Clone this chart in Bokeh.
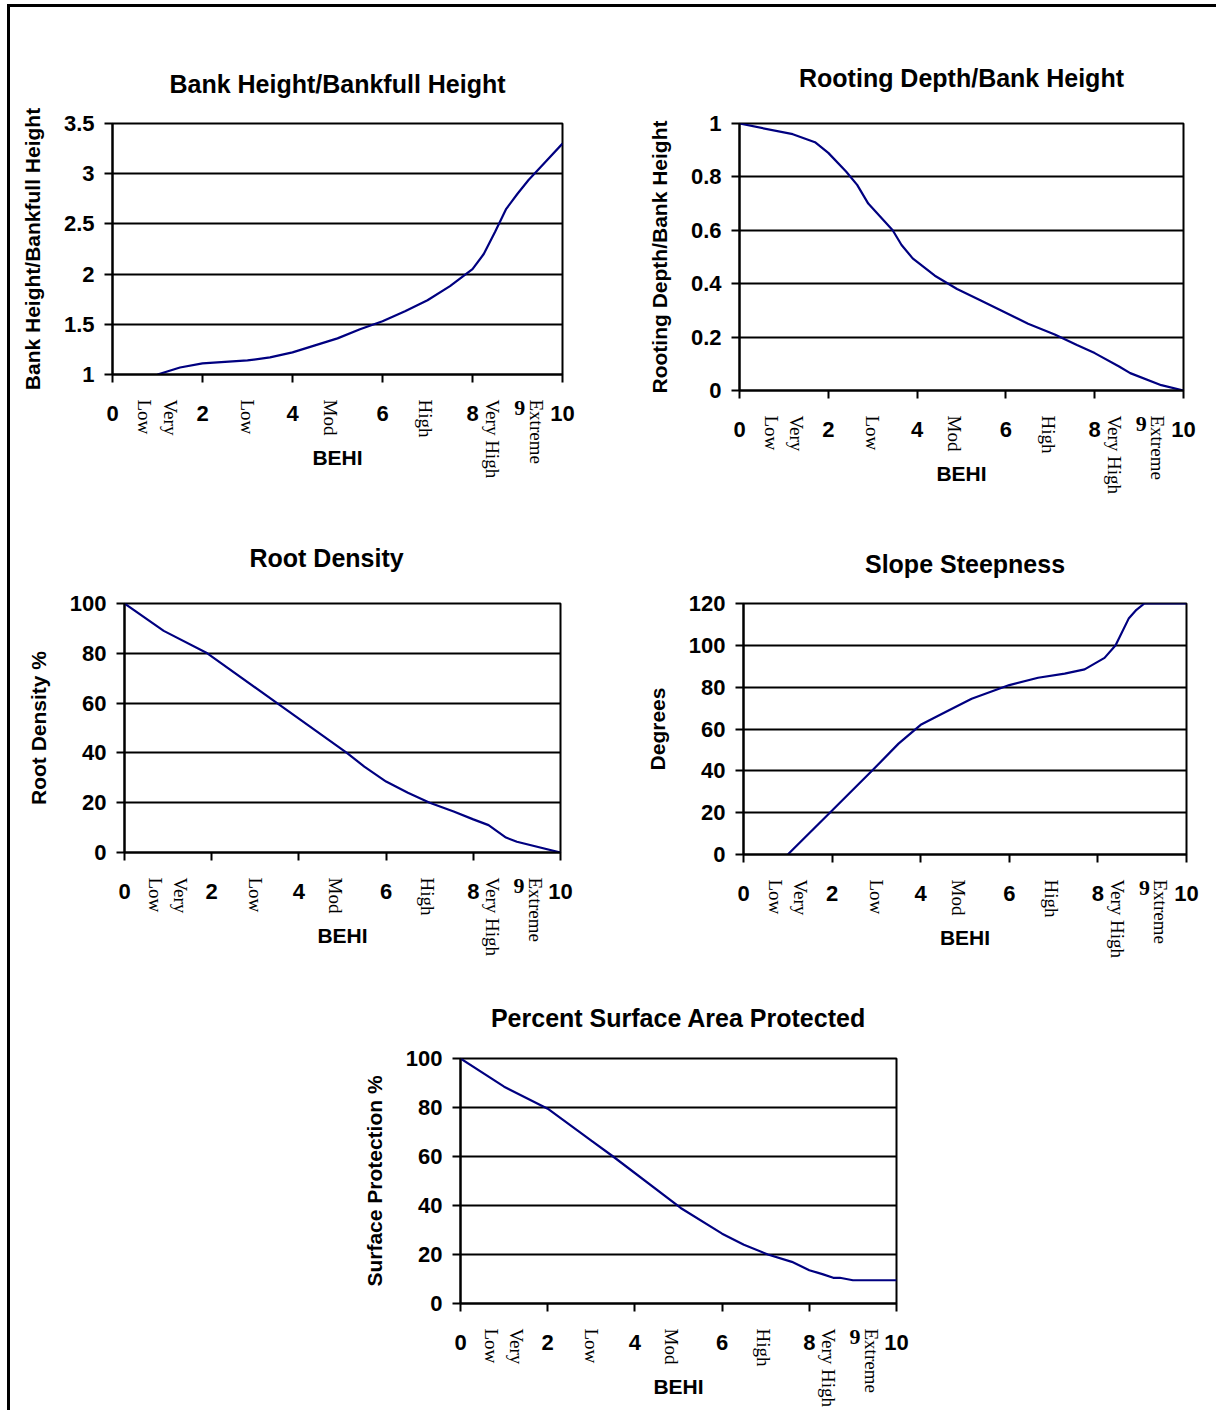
import math
from bokeh.plotting import figure
from bokeh.models import Range1d, FixedTicker, LinearAxis, Spacer
from bokeh.layouts import column, row
from bokeh.embed import file_html
from bokeh.resources import INLINE

# ---------------- data ----------------
behi_ticks = [0, 2, 4, 6, 8, 10]
behi_tick_labels = ["0", "2", "4", "6", "8", "10"]
rating_labels = ["Very\nLow", "Low", "Mod", "High", "Very High", "Extreme"]
rating_pos = [1.0, 3.0, 4.85, 6.95, 8.45, 9.42]
nine_label = ["9"]
nine_pos = [9.05]

bank_x = [1.0, 1.5, 2.0, 2.5, 3.0, 3.5, 4.0, 4.5, 5.0, 5.5, 6.0, 6.5, 7.0, 7.5,
          8.0, 8.25, 8.5, 8.75, 9.0, 9.25, 9.5, 10.0]
bank_y = [1.0, 1.07, 1.11, 1.125, 1.14, 1.17, 1.22, 1.29, 1.36, 1.45, 1.53, 1.63,
          1.74, 1.88, 2.05, 2.2, 2.42, 2.65, 2.80, 2.94, 3.06, 3.30]
bank_ticks = [1, 1.5, 2, 2.5, 3, 3.5]
bank_tick_labels = ["1", "1.5", "2", "2.5", "3", "3.5"]

depth_x = [0, 1.2, 1.7, 2.0, 2.4, 2.65, 2.9, 3.45, 3.65, 3.9, 4.4, 4.9, 5.4,
           6.5, 7.1, 7.6, 8.0, 8.55, 8.8, 9.5, 10]
depth_y = [1.0, 0.96, 0.93, 0.89, 0.82, 0.77, 0.70, 0.60, 0.545, 0.495, 0.43,
           0.38, 0.34, 0.25, 0.21, 0.17, 0.14, 0.09, 0.065, 0.02, 0.0]
depth_ticks = [0, 0.2, 0.4, 0.6, 0.8, 1.0]
depth_tick_labels = ["0", "0.2", "0.4", "0.6", "0.8", "1"]

density_x = [0, 0.9, 1.9, 3.5, 5.1, 5.5, 6.0, 6.5, 7.0, 7.55, 8.0, 8.35, 8.75, 9.0, 10]
density_y = [100, 89, 80, 60, 40, 34.5, 28.5, 24, 20, 16.5, 13.3, 11, 6, 4.3, 0]
pct_ticks = [0, 20, 40, 60, 80, 100]
pct_tick_labels = ["0", "20", "40", "60", "80", "100"]

slope_x = [1.0, 2.0, 2.9, 3.5, 4.0, 4.55, 5.15, 6.0, 6.65, 7.25, 7.7, 8.15, 8.4,
           8.7, 8.87, 9.05, 10]
slope_y = [0, 21, 40, 53, 62, 68, 74.5, 81, 84.5, 86.5, 88.5, 94, 100, 113, 117,
           120, 120]
deg_ticks = [0, 20, 40, 60, 80, 100, 120]
deg_tick_labels = ["0", "20", "40", "60", "80", "100", "120"]

surface_x = [0, 1.0, 2.0, 3.0, 3.5, 5.05, 6.0, 6.5, 7.05, 7.6, 8.0, 8.3, 8.55,
             8.7, 9.0, 10]
surface_y = [100, 88.5, 79.5, 66.5, 60, 39, 28.5, 24, 20, 17, 13.6, 12, 10.5,
             10.5, 9.5, 9.5]

SANS = "Liberation Sans"
SERIF = "Liberation Serif"
LINE_COLOR = "#000080"


def plain_axis(ax):
    ax.axis_line_color = None
    ax.major_tick_line_color = None
    ax.minor_tick_line_color = None
    ax.major_tick_out = 0
    ax.major_tick_in = 0
    ax.major_label_text_color = "black"


def make_chart(title, ylabel, xs, ys, yr, yticks, ylabels, frame_w, frame_h,
               bl, br, bt, bb, title_standoff, title_left_offset=None):
    p = figure(frame_width=frame_w, frame_height=frame_h,
               min_border_left=bl, min_border_right=br,
               min_border_top=bt, min_border_bottom=bb,
               x_range=Range1d(0, 10), y_range=Range1d(yr[0], yr[1]),
               output_backend="svg", toolbar_location=None, tools="")
    p.background_fill_color = "white"
    p.border_fill_color = "white"
    p.outline_line_color = "black"
    p.outline_line_width = 2
    p.outline_line_alpha = 1

    p.title.text = title
    if title_left_offset is None:
        p.title.align = "center"
    else:
        p.title.align = "left"
        p.title.offset = title_left_offset
    p.title.text_font = SANS
    p.title.text_font_style = "bold"
    p.title.text_font_size = "25px"
    p.title.text_color = "black"
    p.title.standoff = title_standoff

    # numeric x axis
    xa = p.xaxis[0]
    xa.ticker = FixedTicker(ticks=behi_ticks, minor_ticks=[])
    xa.major_label_overrides = dict(zip(behi_ticks, behi_tick_labels))
    xa.axis_label = "BEHI"
    # y axis
    ya = p.yaxis[0]
    ya.ticker = FixedTicker(ticks=yticks, minor_ticks=[])
    ya.major_label_overrides = dict(zip(yticks, ylabels))
    ya.axis_label = ylabel
    for ax in (xa, ya):
        ax.axis_line_color = "black"
        ax.axis_line_width = 2
        ax.major_tick_line_color = "black"
        ax.major_tick_line_width = 2
        ax.major_tick_out = 8
        ax.major_tick_in = 0
        ax.minor_tick_line_color = None
        ax.major_label_text_font = SANS
        ax.major_label_text_font_style = "bold"
        ax.major_label_text_font_size = "22px"
        ax.major_label_text_color = "black"
        ax.axis_label_text_font = SANS
        ax.axis_label_text_font_style = "bold"
        ax.axis_label_text_font_size = "21px"
        ax.axis_label_text_color = "black"
    xa.major_label_standoff = 23
    xa.axis_label_standoff = 22
    ya.major_label_standoff = 10
    ya.axis_label_standoff = 17

    # rating-class labels (vertical, serif) pulled up beside the numbers
    cat = LinearAxis(ticker=FixedTicker(ticks=rating_pos, minor_ticks=[]))
    cat.major_label_overrides = dict(zip(rating_pos, rating_labels))
    plain_axis(cat)
    cat.major_label_orientation = -math.pi / 2
    cat.major_label_text_font = SERIF
    cat.major_label_text_font_size = "19px"
    cat.major_label_standoff = -72
    p.add_layout(cat, "below")

    nine = LinearAxis(ticker=FixedTicker(ticks=nine_pos, minor_ticks=[]))
    nine.major_label_overrides = dict(zip(nine_pos, nine_label))
    plain_axis(nine)
    nine.major_label_text_font = SERIF
    nine.major_label_text_font_style = "bold"
    nine.major_label_text_font_size = "22px"
    nine.major_label_standoff = -81
    p.add_layout(nine, "below")

    p.xgrid.visible = False
    p.ygrid.grid_line_color = "black"
    p.ygrid.grid_line_width = 2

    p.line(xs, ys, line_color=LINE_COLOR, line_width=2.2)
    return p


p1 = make_chart("Bank Height/Bankfull Height", "Bank Height/Bankfull Height",
                bank_x, bank_y, (1, 3.5), bank_ticks, bank_tick_labels,
                450, 251, 102, 78, 116, 126, 51)
p2 = make_chart("Rooting Depth/Bank Height", "Rooting Depth/Bank Height",
                depth_x, depth_y, (0, 1), depth_ticks, depth_tick_labels,
                444, 267, 99, 30, 116, 110, 64)
p3 = make_chart("Root Density", "Root Density %",
                density_x, density_y, (0, 100), pct_ticks, pct_tick_labels,
                436, 249, 114, 82, 102, 124, 63, 125)
p4 = make_chart("Slope Steepness", "Degrees",
                slope_x, slope_y, (0, 120), deg_ticks, deg_tick_labels,
                443, 251, 100, 30, 103, 121, 52)
p5 = make_chart("Percent Surface Area Protected", "Surface Protection %",
                surface_x, surface_y, (0, 100), pct_ticks, pct_tick_labels,
                436, 245, 100, 40, 83, 104, 53)

layout = column(
    row(p1, p2),
    row(p3, p4),
    row(Spacer(width=349, height=1), p5),
    styles={"border-left": "3px solid black", "border-top": "3px solid black",
            "margin-left": "7px", "margin-top": "4px"},
)

open("out.html", "w").write(file_html(layout, INLINE))
